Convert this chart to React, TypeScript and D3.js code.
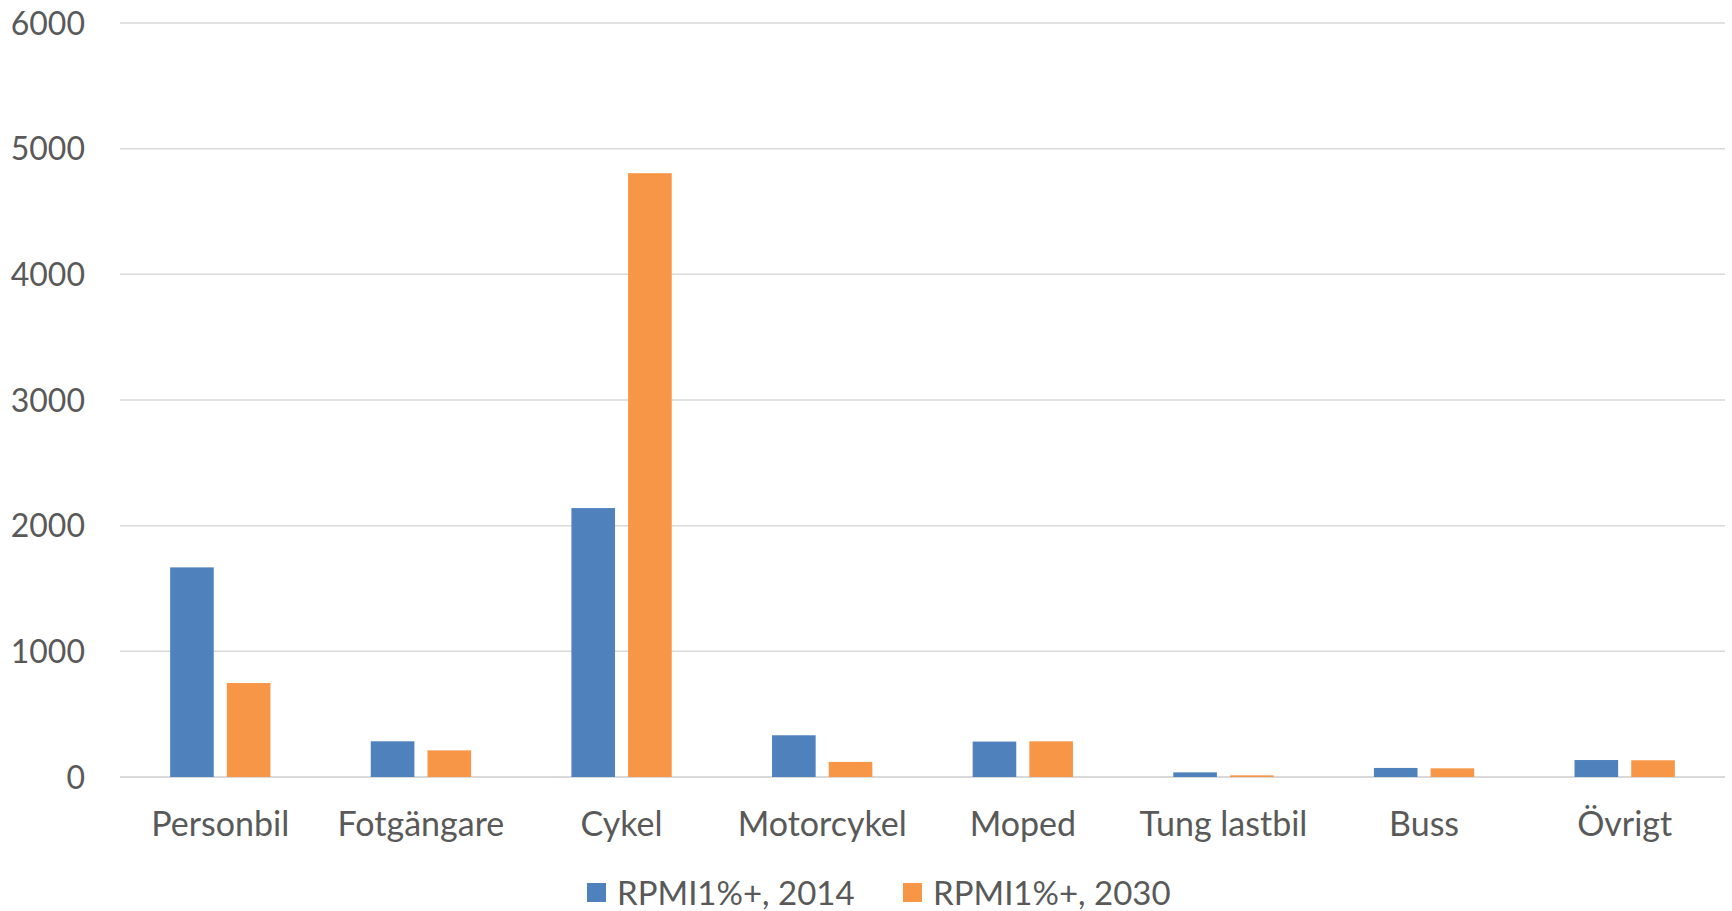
import React from "react";
import * as d3 from "d3";

// data
const categories = ["Personbil", "Fotgängare", "Cykel", "Motorcykel", "Moped", "Tung lastbil", "Buss", "Övrigt"];
const values2014 = [1668, 284, 2140, 332, 282, 37, 72, 135];
const values2030 = [748, 212, 4805, 120, 284, 13, 69, 133];
const seriesNames = ["RPMI1%+, 2014", "RPMI1%+, 2030"];
const yTicks = [0, 1000, 2000, 3000, 4000, 5000, 6000];

const colors = ["#4F81BD", "#F79646"];
const textColor = "#595959";
const gridColor = "#d9d9d9";
const font = "Lato, 'Open Sans', sans-serif";

export default function App() {
    const width = 1732;
    const height = 911;
    const margin = {top: 23, right: 7, bottom: 134, left: 120};

    const x = d3.scaleBand()
        .domain(categories)
        .range([margin.left, width - margin.right])
        .paddingInner(0.5)
        .paddingOuter(0.25);

    const y = d3.scaleLinear()
        .domain([0, 6000])
        .range([height - margin.bottom, margin.top]);

    // two bars per category, small gap between them (overlap -30%)
    const bw = x.bandwidth() / 2.3;
    const gap = bw * 0.3;

    const series = [values2014, values2030];

    const legendX = [587, 903];
    const legendY = 893;

    return (
        <svg width={width} height={height}
             style={{position: "absolute", left: 0, top: 0, background: "#fff"}}
             fontFamily={font}>
            {/* grid */}
            {yTicks.map((t) => (
                <g key={t}>
                    <line x1={margin.left} x2={width - margin.right} y1={y(t)} y2={y(t)}
                          stroke={gridColor} strokeWidth={t === 0 ? 2 : 1.5}/>
                    <text x={85} y={y(t)} dy="0.36em" textAnchor="end" fontSize={32} fill={textColor}>
                        {t}
                    </text>
                </g>
            ))}

            {/* bars */}
            {series.map((vals, si) => (
                <g key={si}>
                    {vals.map((v, i) => {
                        const x0 = x(categories[i])! + si * (bw + gap);
                        return (
                            <rect key={i} x={x0} y={y(v)} width={bw} height={y(0) - y(v)}
                                  fill={colors[si]}/>
                        );
                    })}
                </g>
            ))}

            {/* category labels */}
            {categories.map((c) => (
                <text key={c} x={x(c)! + x.bandwidth() / 2} y={836} textAnchor="middle"
                      fontSize={34} fill={textColor}>
                    {c}
                </text>
            ))}

            {/* legend */}
            {seriesNames.map((name, i) => (
                <g key={name} transform={`translate(${legendX[i]},${legendY})`}>
                    <rect x={0} y={-10} width={19} height={19} fill={colors[i]}/>
                    <text x={30} y={0} dy="0.36em" fontSize={33} fill={textColor}>{name}</text>
                </g>
            ))}
        </svg>
    );
}
